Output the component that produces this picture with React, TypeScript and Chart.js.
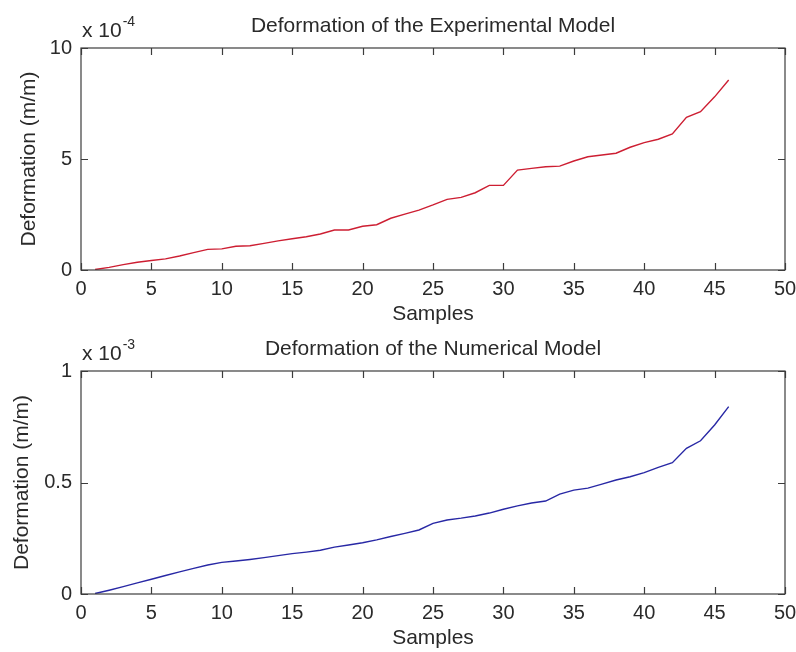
import React, { useEffect, useRef } from 'react';
import { Chart, registerables } from 'chart.js';

Chart.register(...registerables);

// ---- data ----
const samples = [
  1, 2, 3, 4, 5, 6, 7, 8, 9, 10, 11, 12, 13, 14, 15, 16, 17, 18, 19, 20, 21, 22, 23,
  24, 25, 26, 27, 28, 29, 30, 31, 32, 33, 34, 35, 36, 37, 38, 39, 40, 41, 42, 43, 44, 45, 46,
];
// experimental deformation, in units of 1e-4 m/m
const experimental = [
  0.02, 0.12, 0.24, 0.35, 0.43, 0.5, 0.63, 0.78, 0.93, 0.95, 1.07, 1.09, 1.2, 1.31, 1.41, 1.5,
  1.62, 1.8, 1.8, 1.97, 2.04, 2.33, 2.52, 2.7, 2.93, 3.18, 3.27, 3.48, 3.81, 3.81, 4.5, 4.58,
  4.65, 4.68, 4.91, 5.1, 5.18, 5.26, 5.53, 5.74, 5.89, 6.13, 6.88, 7.13, 7.8, 8.56,
];
// numerical deformation, in units of 1e-3 m/m
const numerical = [
  0.002, 0.017, 0.033, 0.05, 0.066, 0.083, 0.099, 0.115, 0.13, 0.142, 0.148, 0.155, 0.163,
  0.172, 0.181, 0.188, 0.196, 0.21, 0.22, 0.23, 0.243, 0.258, 0.272, 0.287, 0.317, 0.332, 0.34,
  0.35, 0.363, 0.38, 0.395, 0.408, 0.417, 0.448, 0.466, 0.475, 0.493, 0.511, 0.526, 0.544,
  0.568, 0.589, 0.653, 0.687, 0.758, 0.84,
];
const xTicks = [0, 5, 10, 15, 20, 25, 30, 35, 40, 45, 50];
const expYTicks = [0, 5, 10];
const numYTicks = [0, 0.5, 1];
const expYTickLabels = ['0', '5', '10'];
const numYTickLabels = ['0', '0.5', '1'];

const FONT = '"Liberation Sans", Arial, sans-serif';
const TEXT = '#2a2a2a';
const AXIS = '#3c3c3c';

const matlabFrame = {
  id: 'matlabFrame',
  afterDraw(chart: any, _args: any, opts: any) {
    const { ctx, chartArea } = chart;
    const { left, right, top, bottom } = chartArea;
    const xs = chart.scales.x;
    const ys = chart.scales.y;
    ctx.save();
    ctx.strokeStyle = AXIS;
    ctx.lineWidth = 1.2;
    ctx.strokeRect(left, top, right - left, bottom - top);
    const tl = 7;
    ctx.beginPath();
    for (const v of opts.xTicks) {
      const px = Math.round(xs.getPixelForValue(v)) + 0.5;
      ctx.moveTo(px, bottom);
      ctx.lineTo(px, bottom - tl);
      ctx.moveTo(px, top);
      ctx.lineTo(px, top + tl);
    }
    for (const v of opts.yTicks) {
      const py = Math.round(ys.getPixelForValue(v)) + 0.5;
      ctx.moveTo(left, py);
      ctx.lineTo(left + tl, py);
      ctx.moveTo(right, py);
      ctx.lineTo(right - tl, py);
    }
    ctx.stroke();

    ctx.fillStyle = TEXT;
    // title
    ctx.font = `21px ${FONT}`;
    ctx.textAlign = 'center';
    ctx.textBaseline = 'alphabetic';
    ctx.fillText(opts.title, (left + right) / 2, top - 16);
    // exponent
    ctx.textAlign = 'left';
    ctx.fillText('x 10', left + 1, top - 11);
    const w = ctx.measureText('x 10').width;
    ctx.font = `14px ${FONT}`;
    ctx.fillText(opts.exponent, left + 2 + w, top - 22);
    // x title
    ctx.font = `21px ${FONT}`;
    ctx.textAlign = 'center';
    ctx.textBaseline = 'middle';
    ctx.fillText('Samples', (left + right) / 2, bottom + 44);
    // y title
    ctx.translate(opts.yTitleX, (top + bottom) / 2);
    ctx.rotate(-Math.PI / 2);
    ctx.fillText('Deformation (m/m)', 0, 0);
    ctx.restore();
  },
};

function makeConfig(
  values: number[],
  color: string,
  yMax: number,
  yTicks: number[],
  yLabels: string[],
  padTop: number,
  xHeight: number,
  title: string,
  exponent: string,
  yTitleX: number,
) {
  return {
    type: 'line' as const,
    data: {
      datasets: [
        {
          data: samples.map((x, i) => ({ x, y: values[i] })),
          borderColor: color,
          borderWidth: 1.4,
          pointRadius: 0,
          tension: 0,
          fill: false,
        },
      ],
    },
    options: {
      responsive: false,
      animation: false,
      layout: { padding: { top: padTop, right: 11, left: 0, bottom: 0 } },
      plugins: {
        legend: { display: false },
        tooltip: { enabled: false },
        matlabFrame: { xTicks, yTicks, title, exponent, yTitleX },
      },
      scales: {
        x: {
          type: 'linear',
          min: 0,
          max: 50,
          grid: { display: false, drawTicks: false },
          border: { display: false },
          afterBuildTicks: (s: any) => {
            s.ticks = xTicks.map((v) => ({ value: v }));
          },
          afterFit: (s: any) => {
            s.height = xHeight;
            s.paddingLeft = 0;
            s.paddingRight = 0;
          },
          ticks: {
            autoSkip: false,
            maxRotation: 0,
            padding: 7,
            color: TEXT,
            font: { family: FONT, size: 20 },
            callback: (v: any) => String(v),
          },
        },
        y: {
          type: 'linear',
          min: 0,
          max: yMax,
          grid: { display: false, drawTicks: false },
          border: { display: false },
          afterBuildTicks: (s: any) => {
            s.ticks = yTicks.map((v) => ({ value: v }));
          },
          afterFit: (s: any) => {
            s.width = 81;
            s.paddingTop = 0;
            s.paddingBottom = 0;
          },
          ticks: {
            autoSkip: false,
            padding: 9,
            color: TEXT,
            font: { family: FONT, size: 20 },
            callback: (v: any) => {
              const idx = yTicks.indexOf(Number(v));
              return idx >= 0 ? yLabels[idx] : '';
            },
          },
        },
      },
    },
    plugins: [matlabFrame],
  };
}

export default function App() {
  const topRef = useRef<HTMLCanvasElement | null>(null);
  const botRef = useRef<HTMLCanvasElement | null>(null);

  useEffect(() => {
    const c1 = new Chart(
      topRef.current as HTMLCanvasElement,
      makeConfig(
        experimental,
        'rgb(205,30,50)',
        10,
        expYTicks,
        expYTickLabels,
        48,
        56,
        'Deformation of the Experimental Model',
        '-4',
        29,
      ) as any,
    );
    const c2 = new Chart(
      botRef.current as HTMLCanvasElement,
      makeConfig(
        numerical,
        'rgb(40,40,165)',
        1,
        numYTicks,
        numYTickLabels,
        45,
        58,
        'Deformation of the Numerical Model',
        '-3',
        22,
      ) as any,
    );
    return () => {
      c1.destroy();
      c2.destroy();
    };
  }, []);

  return (
    <div style={{ position: 'absolute', left: 0, top: 0, width: 796, height: 652, background: '#fff' }}>
      <canvas ref={topRef} width={796} height={326} style={{ position: 'absolute', left: 0, top: 0, width: 796, height: 326 }} />
      <canvas ref={botRef} width={796} height={326} style={{ position: 'absolute', left: 0, top: 326, width: 796, height: 326 }} />
    </div>
  );
}
